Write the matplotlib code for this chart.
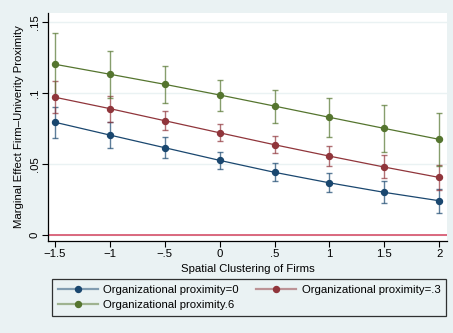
import matplotlib

matplotlib.use("Agg")
import matplotlib.pyplot as plt
from matplotlib.colors import to_rgba

# spatial clustering values
x_vals = [-1.5, -1.0, -0.5, 0.0, 0.5, 1.0, 1.5, 2.0]
x_tick_labels = ["\u22121.5", "\u22121", "\u2212.5", "0", ".5", "1", "1.5", "2"]
y_ticks = [0.0, 0.05, 0.10, 0.15]
y_tick_labels = ["0", ".05", ".1", ".15"]

# organizational proximity = 0
op0_mean = [0.0794, 0.0704, 0.0615, 0.0526, 0.0442, 0.0368, 0.0301, 0.0242]
op0_lo = [0.0681, 0.0615, 0.0540, 0.0463, 0.0378, 0.0301, 0.0223, 0.0157]
op0_hi = [0.0904, 0.0798, 0.0690, 0.0587, 0.0505, 0.0437, 0.0378, 0.0322]

# organizational proximity = .3
op3_mean = [0.0970, 0.0890, 0.0805, 0.0720, 0.0636, 0.0556, 0.0479, 0.0406]
op3_lo = [0.0857, 0.0796, 0.0739, 0.0662, 0.0577, 0.0485, 0.0399, 0.0316]
op3_hi = [0.1082, 0.0977, 0.0873, 0.0780, 0.0695, 0.0627, 0.0563, 0.0496]

# organizational proximity = .6
op6_mean = [0.1202, 0.1132, 0.1061, 0.0986, 0.0908, 0.0829, 0.0751, 0.0674]
op6_lo = [0.0980, 0.0964, 0.0930, 0.0873, 0.0791, 0.0692, 0.0587, 0.0488]
op6_hi = [0.1423, 0.1298, 0.1188, 0.1094, 0.1023, 0.0965, 0.0913, 0.0861]

series = [
    ("Organizational proximity=0", op0_mean, op0_lo, op0_hi, "#1A476F"),
    ("Organizational proximity=.3", op3_mean, op3_lo, op3_hi, "#90353B"),
    ("Organizational proximity.6", op6_mean, op6_lo, op6_hi, "#55752F"),
]

BG = "#EAF2F3"
FS = 8.2
plt.rcParams["font.family"] = ["Liberation Sans", "DejaVu Sans"]

fig = plt.figure(figsize=(4.53, 3.33), dpi=100, facecolor=BG)
ax = fig.add_axes([0.106, 0.276, 0.881, 0.685])
ax.set_facecolor("white")

for y in y_ticks:
    ax.axhline(y, color=BG, linewidth=1.0, zorder=0)
ax.axhline(0.0, color="#D6506A", linewidth=1.2, zorder=1)

handles = []
for label, mean, lo, hi, color in series:
    err_lo = [m - l for m, l in zip(mean, lo)]
    err_hi = [h - m for m, h in zip(mean, hi)]
    ax.errorbar(
        x_vals, mean, yerr=[err_lo, err_hi], fmt="none",
        ecolor=color, alpha=0.7, elinewidth=1.0, capsize=2.3, capthick=1.0, zorder=2,
    )
    ax.plot(x_vals, mean, color=color, linewidth=0.9, zorder=3)
    ax.plot(x_vals, mean, "o", color=color, markersize=4.3, zorder=4)
    (h,) = ax.plot([], [], color=to_rgba(color, 0.5), linewidth=1.6, marker="o",
                   markersize=4.3, markerfacecolor=color, markeredgecolor=color)
    handles.append((h, label))

ax.set_xlim(-1.564, 2.073)
ax.set_ylim(-0.0042, 0.1563)
ax.set_xticks(x_vals)
ax.set_xticklabels(x_tick_labels)
ax.set_yticks(y_ticks)
ax.set_yticklabels(y_tick_labels, rotation=90, va="center")
ax.tick_params(axis="both", labelsize=FS, length=4, width=0.8, color="black", pad=2)

for side in ("top", "right"):
    ax.spines[side].set_visible(False)
for side in ("left", "bottom"):
    ax.spines[side].set_linewidth(0.9)

ax.set_xlabel("Spatial Clustering of Firms", fontsize=FS, labelpad=3)
ax.set_ylabel("Marginal Effect Firm\u2013Univerity Proximity", fontsize=FS, labelpad=4)

order = [0, 2, 1]
leg = fig.legend(
    [handles[i][0] for i in order], [handles[i][1] for i in order],
    ncol=2, loc="upper left", bbox_to_anchor=(52 / 453, 1 - 279 / 333),
    fontsize=FS, frameon=True, fancybox=False, borderaxespad=0.0,
    handlelength=3.5, handletextpad=0.5, borderpad=0.5, labelspacing=0.45,
    columnspacing=1.5,
)
leg.get_frame().set_facecolor(BG)
leg.get_frame().set_edgecolor("black")
leg.get_frame().set_linewidth(0.9)

fig.savefig("out.png", dpi=100, facecolor=BG)
